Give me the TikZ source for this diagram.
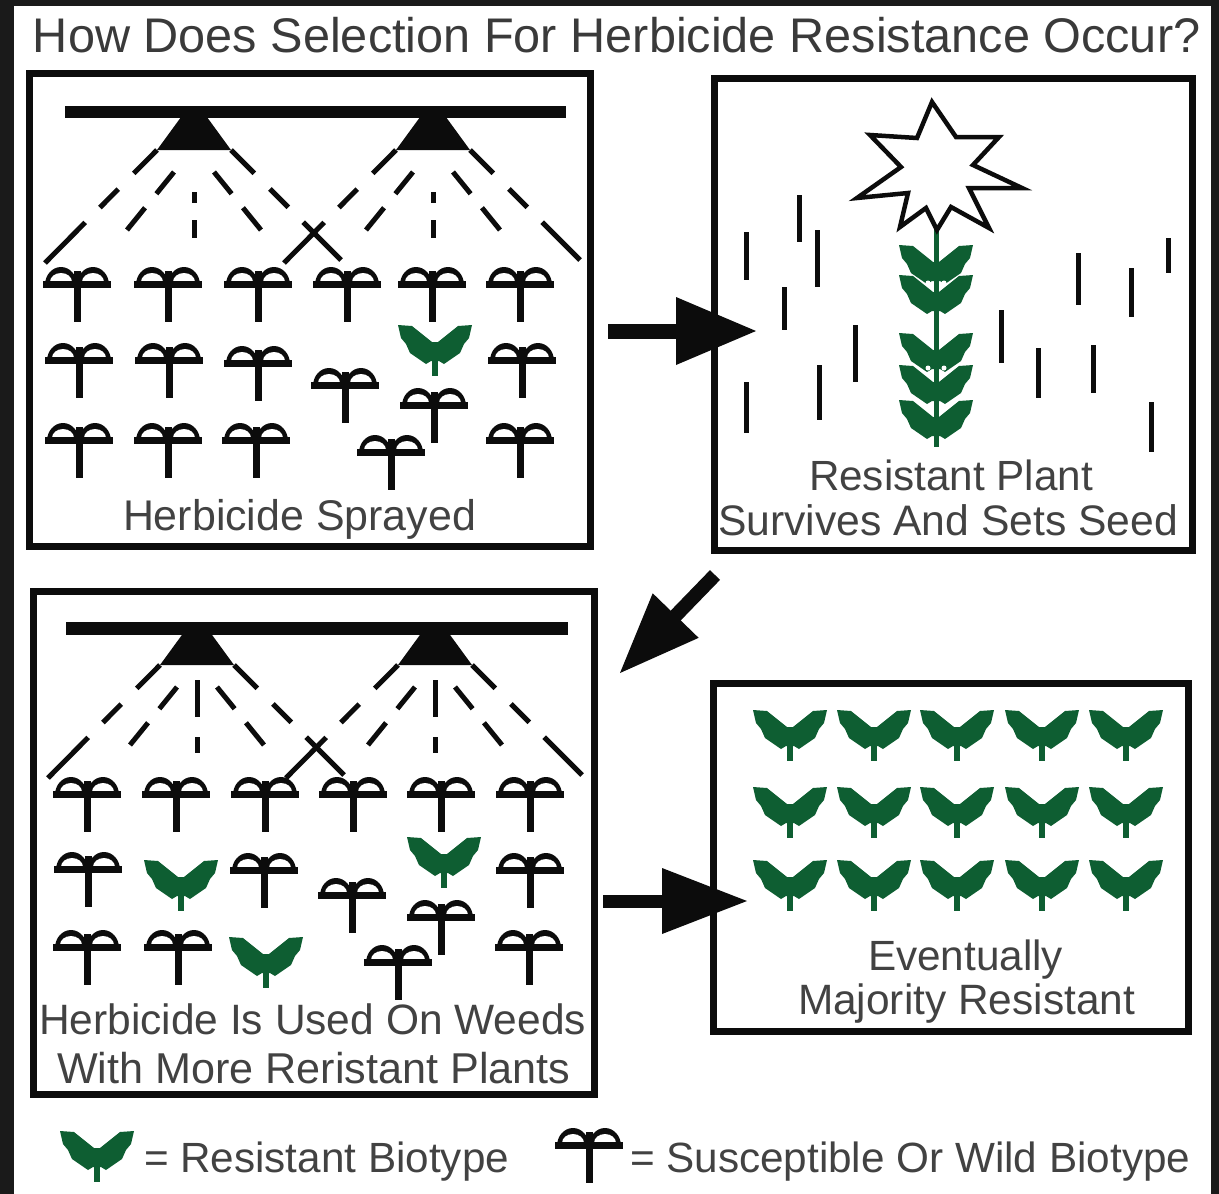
\documentclass[tikz,border=0pt]{standalone}
\usepackage{fontspec}
\setsansfont{Liberation Sans}
\usepackage{graphicx}
\usetikzlibrary{calc}

\definecolor{bgdark}{RGB}{26,26,26}
\definecolor{inkc}{RGB}{12,12,12}
\definecolor{leafc}{RGB}{14,94,50}
\definecolor{titlec}{RGB}{58,58,58}
\definecolor{capc}{RGB}{66,66,66}

% one text line scaled to a given width (in pt)
\newcommand\fitline[2]{\resizebox{#1pt}{!}{#2}}

% spray nozzle with its fan of dashed jets
% #1 x, #2 y of nozzle top, #3 start of middle jet, #4 its length, #5 its dash pattern
\newcommand\sprayfan[5]{%
  \begin{scope}[shift={(#1,#2)}]
    \fill[inkc] (-10,-4) -- (10,-4) -- (37,33) -- (-37,33) -- cycle;
    \draw[spray, dash pattern=on 33pt off 22pt on 26pt off 21pt on 70pt] (-37,33) -- (-149,146);
    \draw[spray, dash pattern=on 33pt off 22pt on 26pt off 21pt on 70pt] (37,33) -- (147,143);
    \draw[spray, dash pattern=on 28pt off 18pt on 30pt] (-20,55) -- (-67,113);
    \draw[spray, dash pattern=on 28pt off 18pt on 30pt] (20,55) -- (67,113);
    \draw[spray, dash pattern=#5] (0,#3) -- (0,#3+#4);
  \end{scope}}

% fat arrow: #1 start, #2 tip, #3 shaft width, #4 head length, #5 head half width
\newcommand\fatarrow[5]{%
  \draw[inkc, line width=#3] (#1) -- ($(#2)!0.5*#4!(#1)$);
  \fill[inkc] ($(#2)!#4!(#1)!#5!90:(#2)$) -- (#2) -- ($(#2)!#4!(#1)!#5!-90:(#2)$) -- cycle;}

\tikzset{
  panel/.style={draw=inkc, line width=7pt, fill=white, inner sep=0pt, outer sep=0pt},
  lbl/.style={anchor=base west, inner sep=0pt, outer sep=0pt, text=capc, font=\sffamily},
  spray/.style={draw=inkc, line width=5pt},
  stub/.style={draw=inkc, line width=5pt},
  % susceptible (wild) seedling
  sus/.pic={
    \fill[inkc] (-32,18) arc[start angle=180,end angle=360,x radius=16,y radius=18] -- cycle;
    \fill[inkc] (0,18) arc[start angle=180,end angle=360,x radius=16,y radius=18] -- cycle;
    \fill[white] (-27,15) arc[start angle=180,end angle=360,x radius=11,y radius=9] -- cycle;
    \fill[white] (5,15) arc[start angle=180,end angle=360,x radius=11,y radius=9] -- cycle;
    \fill[inkc] (-34,14) rectangle (34,21);
    \fill[inkc] (-3.5,4) rectangle (3.5,55);
  },
  % pair of resistant leaves
  wings/.pic={
    \fill[leafc] (-37,0) -- (-23,1) -- (-3,17) -- (3,17) -- (23,1) -- (37,0)
      -- (34,13) -- (29,19) -- (25,28) -- (9,39) -- (4,36) -- (-4,36) -- (-9,39)
      -- (-25,28) -- (-29,19) -- (-34,13) -- cycle;
  },
  % resistant seedling
  res/.pic={
    \pic {wings};
    \fill[leafc] (-3,30) rectangle (3,51);
  },
}

\begin{document}
\begin{tikzpicture}[x=1pt,y=-1pt]
\useasboundingbox (0,0) rectangle (1219,1194);
\fill[bgdark] (0,0) rectangle (1219,1194);
\fill[white] (14,6) rectangle (1211,1194);

% title
\node[lbl, text=titlec] (title) at (33,52)
  {\fitline{1167}{How Does Selection For Herbicide Resistance Occur?}};

% the four panels
\node[panel, minimum width=561pt, minimum height=473pt] (pA) at (309.5,309.5) {};
\node[panel, minimum width=478pt, minimum height=472pt] (pB) at (953,314) {};
\node[panel, minimum width=561pt, minimum height=503pt] (pC) at (313.5,842.5) {};
\node[panel, minimum width=475pt, minimum height=348pt] (pD) at (950.5,857) {};

% ---- panel A: spraying a field with one resistant plant
\fill[inkc] (65,106) rectangle (566,118);
\sprayfan{194}{117}{75}{46}{on 11pt off 17pt on 30pt}
\sprayfan{433}{117}{75}{46}{on 11pt off 17pt on 30pt}
\foreach \x/\y in {77/267,168/267,258/267,347/267,432/267,520/267,
                   79/343,169/343,258/346,345/368,434/388,522/343,
                   79/423,168/423,256/423,391/435,520/423}
  \pic at (\x,\y) {sus};
\pic at (435,325) {res};
\node[lbl] (labA) at (123,530) {\fitline{353}{Herbicide Sprayed}};

% ---- panel B: dead stubs and the surviving plant in seed
\foreach \x/\a/\b in {746/232/280,799/195/242,817/230/287,784/287/330,855/325/382,
                      819/365/420,746/382/433,1001/310/363,1038/348/398,1078/253/305,
                      1131/268/317,1168/238/273,1093/345/393,1151/402/452}
  \draw[stub] (\x,\a) -- (\x,\b);
\draw[leafc, line width=5pt] (936,228) -- (936,447);
\foreach \y in {245,275,333,365,400}
  \pic at (936,\y) {wings};
\draw[leafc, line width=3pt] (936,250) -- (936,442);
\foreach \y in {283,368}
  {\fill[white] (928,\y) circle (2.5); \fill[white] (944,\y) circle (2.5);}
\filldraw[fill=white, draw=inkc, line width=4.5pt, line join=miter, miter limit=10]
  (932,102) -- (956,137) -- (999,137) -- (973,165) -- (1022,188) -- (969,188)
  -- (989,228) -- (951,207) -- (937,230) -- (926,208) -- (900,227) -- (908,193)
  -- (857,198) -- (901,167) -- (870,135) -- (917,138) -- cycle;
\node[lbl] (labB1) at (809,490) {\fitline{284}{Resistant Plant}};
\node[lbl] (labB2) at (718,535) {\fitline{460}{Survives And Sets Seed}};

% ---- panel C: spraying again, more resistant plants
\fill[inkc] (66,622) rectangle (568,635);
\sprayfan{197}{632}{48}{73}{on 37pt off 20pt on 16pt}
\sprayfan{435}{632}{48}{73}{on 37pt off 20pt on 16pt}
\foreach \x/\y in {87/777,176/777,265/777,353/777,441/777,530/777,
                   88/852,264/853,352/878,441/900,530/853,
                   87/930,178/930,398/945,529/930}
  \pic at (\x,\y) {sus};
\foreach \x/\y in {181/860,444/837,266/937}
  \pic at (\x,\y) {res};
\node[lbl] (labC1) at (39,1034) {\fitline{547}{Herbicide Is Used On Weeds}};
\node[lbl] (labC2) at (57,1083) {\fitline{513}{With More Reristant Plants}};

% ---- panel D: resistant population
\foreach \y in {710,787,860}
  \foreach \x in {790,874,957,1042,1126}
    \pic at (\x,\y) {res};
\node[lbl] (labD1) at (868,970) {\fitline{195}{Eventually}};
\node[lbl] (labD2) at (798,1014) {\fitline{337}{Majority Resistant}};

% ---- arrows between the stages
\coordinate (a1s) at (608,331);  \coordinate (a1t) at (756,331);
\coordinate (a2s) at (715,575);  \coordinate (a2t) at (620,673);
\coordinate (a3s) at (603,901);  \coordinate (a3t) at (747,901);
\fatarrow{a1s}{a1t}{15pt}{80pt}{34pt}
\fatarrow{a2s}{a2t}{14pt}{80pt}{32pt}
\fatarrow{a3s}{a3t}{13pt}{85pt}{33pt}

% ---- legend
\pic at (97,1131) {res};
\node[lbl] (legR) at (144,1172) {\fitline{365}{= Resistant Biotype}};
\pic at (589,1128) {sus};
\node[lbl] (legS) at (630,1172) {\fitline{560}{= Susceptible Or Wild Biotype}};
\end{tikzpicture}
\end{document}
